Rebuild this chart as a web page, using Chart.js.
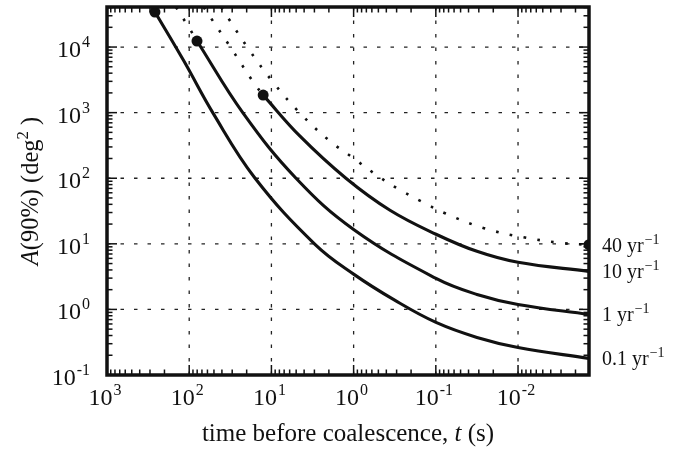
<!DOCTYPE html>
<html>
<head>
<meta charset="utf-8">
<script src="https://cdn.jsdelivr.net/npm/chart.js@4.4.1/dist/chart.umd.min.js"></script>
<style>
  html, body { margin: 0; padding: 0; background: #fff; }
  #wrap { width: 694px; height: 453px; }
</style>
</head>
<body>
<div id="wrap"><canvas id="areaChart"></canvas></div>
<script>
// time before coalescence (s) and 90% area (deg^2)
const t01 = [261, 116, 51.3, 15.8, 2.95, 0.99, 0.313, 0.0995, 0.0316, 0.01, 0.00137];
const a01 = [34200, 6110, 983, 100, 9.83, 3.42, 1.37, 0.633, 0.374, 0.263, 0.179];

const t1 = [80.4, 22.1, 5.02, 0.99, 0.0995, 0.0316, 0.01, 0.00137];
const a1 = [12360, 983, 100, 16.4, 2.97, 1.69, 1.19, 0.84];
const t1Pre = [145, 100, 80.4];
const a1Pre = [40800, 19500, 12360];

const t10 = [12.6, 4.49, 1.24, 0.361, 0.0995, 0.0316, 0.01, 0.00137];
const a10 = [1850, 438, 100, 32.5, 14.0, 7.68, 5.22, 3.8];
const t10Pre = [67, 31.0, 16.3, 12.6];
const a10Pre = [40800, 9660, 2820, 1850];

const t40 = [41, 19.3, 9.57, 4.49, 1.94, 1.04, 0.565, 0.296, 0.151, 0.0773, 0.0259, 0.00869, 0.00275, 0.00137];
const a40 = [40800, 9660, 2920, 982, 367, 209, 119, 70.3, 44.6, 29.2, 17.3, 12.6, 10.2, 9.7];

const rateLabels = ['40', '10', '1', '0.1'];
const rateEnds = [a40[a40.length - 1], a10[a10.length - 1], a1[a1.length - 1], a01[a01.length - 1]];

const xMajors = [1e3, 1e2, 1e1, 1e0, 1e-1, 1e-2];
const xExps = ['3', '2', '1', '0', '-1', '-2'];
const yMajors = [1e-1, 1e0, 1e1, 1e2, 1e3, 1e4];
const yExps = ['-1', '0', '1', '2', '3', '4'];

const INK = '#111';
const SERIF = '"Liberation Serif", "DejaVu Serif", serif';

function pts(t, a) {
  return t.map((x, i) => ({ x: x, y: a[i] }));
}

function solidLine(t, a) {
  return {
    data: pts(t, a),
    borderColor: INK,
    backgroundColor: INK,
    borderWidth: 3.1,
    pointRadius: c => c.dataIndex === 0 ? 5.5 : 0,
    pointBorderWidth: 0,
    tension: 0.4
  };
}

function dottedLine(t, a, dotLast) {
  return {
    data: pts(t, a),
    borderColor: INK,
    backgroundColor: INK,
    borderWidth: 2.6,
    borderDash: [2.6, 11.4],
    pointRadius: c => (dotLast && c.dataIndex === t.length - 1) ? 5.5 : 0,
    pointBorderWidth: 0,
    tension: 0.4
  };
}

// draws "10" with a raised exponent
function drawPow(ctx, base, exp, x, y, align, big, small, rise) {
  ctx.font = big + 'px ' + SERIF;
  const wb = ctx.measureText(base).width;
  ctx.font = small + 'px ' + SERIF;
  const we = ctx.measureText(exp).width;
  const total = wb + 1 + we;
  let sx = x;
  if (align === 'center') sx = x - total / 2;
  if (align === 'right') sx = x - total;
  ctx.textAlign = 'left';
  ctx.textBaseline = 'alphabetic';
  ctx.font = big + 'px ' + SERIF;
  ctx.fillText(base, sx, y);
  ctx.font = small + 'px ' + SERIF;
  ctx.fillText(exp, sx + wb + 1, y - rise);
}

// text made of pieces: {s, italic, sup}
function drawPieces(ctx, pieces, x, y, size) {
  const fontOf = p => (p.italic ? 'italic ' : '') + (p.sup ? size * 0.68 : size) + 'px ' + SERIF;
  let total = 0;
  pieces.forEach(p => { ctx.font = fontOf(p); total += ctx.measureText(p.s).width; });
  let cx = x - total / 2;
  ctx.textAlign = 'left';
  ctx.textBaseline = 'alphabetic';
  pieces.forEach(p => {
    ctx.font = fontOf(p);
    ctx.fillText(p.s, cx, p.sup ? y - size * 0.42 : y);
    cx += ctx.measureText(p.s).width;
  });
}

function minorValues(min, max) {
  const out = [];
  for (let d = -4; d <= 5; d++) {
    for (let m = 2; m <= 9; m++) {
      const v = m * Math.pow(10, d);
      if (v > min && v < max) out.push(v);
    }
  }
  return out;
}

const framePlugin = {
  id: 'frame',
  beforeDatasetsDraw(chart) {
    const { ctx, chartArea: a, scales: { x, y } } = chart;
    ctx.save();
    ctx.strokeStyle = '#222';
    ctx.lineWidth = 1.3;
    ctx.setLineDash([3.5, 10]);
    xMajors.forEach(v => {
      const px = x.getPixelForValue(v);
      if (px <= a.left + 2 || px >= a.right - 2) return;
      ctx.beginPath();
      ctx.moveTo(px, a.bottom);
      ctx.lineTo(px, a.top);
      ctx.stroke();
    });
    yMajors.forEach(v => {
      const py = y.getPixelForValue(v);
      if (py <= a.top + 2 || py >= a.bottom - 2) return;
      ctx.beginPath();
      ctx.moveTo(a.left, py);
      ctx.lineTo(a.right, py);
      ctx.stroke();
    });
    ctx.restore();
  },
  afterDatasetsDraw(chart) {
    const { ctx, chartArea: a, scales: { x, y } } = chart;
    ctx.save();
    ctx.strokeStyle = INK;
    ctx.lineWidth = 1.5;
    const tick = (x1, y1, x2, y2) => {
      ctx.beginPath(); ctx.moveTo(x1, y1); ctx.lineTo(x2, y2); ctx.stroke();
    };
    // inner ticks on all four sides
    xMajors.forEach(v => {
      const px = x.getPixelForValue(v);
      tick(px, a.bottom, px, a.bottom - 10);
      tick(px, a.top, px, a.top + 10);
    });
    minorValues(x.min, x.max).forEach(v => {
      const px = x.getPixelForValue(v);
      tick(px, a.bottom, px, a.bottom - 5.5);
      tick(px, a.top, px, a.top + 5.5);
    });
    yMajors.forEach(v => {
      const py = y.getPixelForValue(v);
      tick(a.left, py, a.left + 10, py);
      tick(a.right, py, a.right - 10, py);
    });
    minorValues(y.min, y.max).forEach(v => {
      const py = y.getPixelForValue(v);
      tick(a.left, py, a.left + 5.5, py);
      tick(a.right, py, a.right - 5.5, py);
    });
    ctx.lineWidth = 3.5;
    ctx.strokeRect(a.left, a.top, a.right - a.left, a.bottom - a.top);
    ctx.restore();
  },
  afterDraw(chart) {
    const { ctx, chartArea: a, scales: { x, y } } = chart;
    ctx.save();
    ctx.fillStyle = INK;

    xMajors.forEach((v, i) => {
      drawPow(ctx, '10', xExps[i], x.getPixelForValue(v) - 2, a.bottom + 30, 'center', 24, 16, 10);
    });
    yMajors.forEach((v, i) => {
      drawPow(ctx, '10', yExps[i], a.left - 17, y.getPixelForValue(v) + 10, 'right', 24, 16, 10);
    });

    // curve labels at the right edge
    rateLabels.forEach((lab, i) => {
      const py = y.getPixelForValue(rateEnds[i]) + 7;
      ctx.font = '20px ' + SERIF;
      ctx.textAlign = 'left';
      const txt = lab + ' yr';
      ctx.fillText(txt, a.right + 13, py);
      const w = ctx.measureText(txt).width;
      ctx.font = '14px ' + SERIF;
      ctx.fillText('\u22121', a.right + 14 + w, py - 8);
    });

    // axis titles
    drawPieces(ctx, [
      { s: 'time before coalescence, ' },
      { s: 't', italic: true },
      { s: ' (s)' }
    ], (a.left + a.right) / 2, 441, 25);

    ctx.translate(38, (a.top + a.bottom) / 2);
    ctx.rotate(-Math.PI / 2);
    drawPieces(ctx, [
      { s: 'A', italic: true },
      { s: '(90%) (deg' },
      { s: '2', sup: true },
      { s: ' )' }
    ], 0, 0, 24.5);
    ctx.restore();
  }
};

new Chart(document.getElementById('areaChart'), {
  type: 'line',
  data: {
    datasets: [
      dottedLine(t40, a40, true),
      dottedLine(t10Pre, a10Pre, false),
      dottedLine(t1Pre, a1Pre, false),
      solidLine(t10, a10),
      solidLine(t1, a1),
      solidLine(t01, a01)
    ]
  },
  options: {
    responsive: true,
    maintainAspectRatio: false,
    animation: false,
    layout: { padding: { left: 107, right: 105, top: 7, bottom: 78 } },
    plugins: { legend: { display: false }, tooltip: { enabled: false } },
    scales: {
      x: { type: 'logarithmic', reverse: true, min: 0.00137, max: 1000, display: false },
      y: { type: 'logarithmic', min: 0.1, max: 40800, display: false }
    }
  },
  plugins: [framePlugin]
});
</script>
</body>
</html>
